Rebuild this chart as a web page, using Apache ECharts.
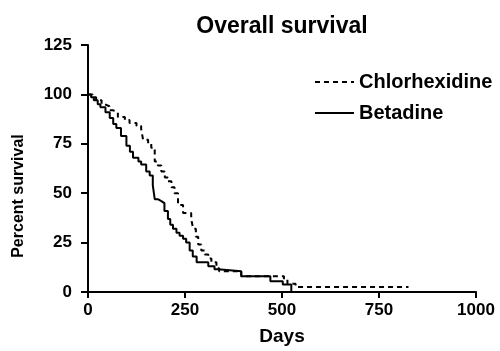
<!DOCTYPE html>
<html>
<head>
<meta charset="utf-8">
<script src="https://cdn.jsdelivr.net/npm/echarts@6/dist/echarts.min.js"></script>
<style>
  html, body { margin: 0; padding: 0; background: #fff; }
  #chart { width: 500px; height: 351px; }
</style>
</head>
<body>
<div id="chart"></div>
<script>
// Kaplan-Meier style steps: [day, percent]
const chlorDays = [0, 12, 21, 35, 43, 55, 64, 77, 95, 107, 125, 137, 142, 155, 163, 172, 180, 189, 198, 206, 215, 223, 232, 245, 266, 271, 278, 284, 292, 301, 310, 318, 331, 338, 395, 505, 514, 535, 554, 826];
const chlorSurv = [100, 98.5, 97, 95, 94, 92, 91, 88.5, 87, 85.5, 84, 82.5, 77, 75, 73, 66, 64, 61, 58, 56, 53, 50, 44, 40, 37, 32, 28, 24, 21, 19, 17, 15, 12, 10.5, 8, 6.4, 4.2, 2.5, 2.5, 2.5];
const betaDays = [0, 8, 15, 25, 32, 45, 56, 65, 73, 85, 99, 108, 116, 130, 137, 150, 159, 167, 172, 180, 189, 197, 206, 212, 219, 228, 236, 245, 253, 262, 270, 280, 310, 326, 335, 395, 470, 502, 524];
const betaSurv = [100, 98.5, 97, 95, 93.5, 91, 88, 85, 83, 79, 74, 71, 68, 66, 64.5, 61, 59, 54, 47, 46, 45, 41, 37, 34, 32, 30, 28.5, 27, 25, 21, 18, 15, 13, 11.5, 10.5, 8, 5.5, 3.8, 0];

const pairs = (xs, ys) => xs.map((x, i) => [x, ys[i]]);
const font = 'Liberation Sans, Arial, sans-serif';

const chart = echarts.init(document.getElementById('chart'));
chart.setOption({
  animation: false,
  title: {
    text: 'Overall survival',
    left: 277,
    top: 10,
    textAlign: 'center',
    textStyle: { fontFamily: font, fontSize: 23, fontWeight: 'bold', color: '#000' }
  },
  legend: {
    orient: 'vertical',
    left: 309,
    top: 67,
    itemWidth: 39,
    itemHeight: 10,
    itemGap: 11,
    itemStyle: { opacity: 0 },
    textStyle: { fontFamily: font, fontSize: 20, fontWeight: 'bold', color: '#000' },
    data: ['Chlorhexidine', 'Betadine']
  },
  graphic: [{
    type: 'text',
    x: 19,
    y: 196,
    rotation: Math.PI / 2,
    style: {
      text: 'Percent survival',
      font: 'bold 16px ' + font,
      fill: '#000',
      align: 'center',
      verticalAlign: 'middle'
    }
  }],
  grid: { left: 88, right: 24, top: 45, bottom: 57 },
  xAxis: {
    type: 'value',
    min: 0, max: 1000, interval: 250,
    name: 'Days',
    nameLocation: 'middle',
    nameGap: 35,
    nameTextStyle: { fontFamily: font, fontSize: 19, fontWeight: 'bold', color: '#000' },
    axisLine: { lineStyle: { color: '#000', width: 2 } },
    axisTick: { show: true, length: 6, lineStyle: { color: '#000', width: 2 } },
    axisLabel: { fontFamily: font, fontSize: 17, fontWeight: 'bold', color: '#000', margin: 10,
      formatter: v => String(v) },
    splitLine: { show: false }
  },
  yAxis: {
    type: 'value',
    min: 0, max: 125, interval: 25,
    axisLine: { show: true, lineStyle: { color: '#000', width: 2 } },
    axisTick: { show: true, length: 7, lineStyle: { color: '#000', width: 2 } },
    axisLabel: { fontFamily: font, fontSize: 17, fontWeight: 'bold', color: '#000', margin: 16,
      formatter: v => String(v) },
    splitLine: { show: false }
  },
  series: [
    {
      name: 'Chlorhexidine',
      type: 'line',
      step: 'end',
      showSymbol: false,
      symbol: 'none',
      itemStyle: { color: '#000' },
      lineStyle: { color: '#000', width: 2, type: [5, 4] },
      data: pairs(chlorDays, chlorSurv)
    },
    {
      name: 'Betadine',
      type: 'line',
      step: 'end',
      showSymbol: false,
      symbol: 'none',
      itemStyle: { color: '#000' },
      lineStyle: { color: '#000', width: 2 },
      data: pairs(betaDays, betaSurv)
    }
  ]
});
</script>
</body>
</html>
